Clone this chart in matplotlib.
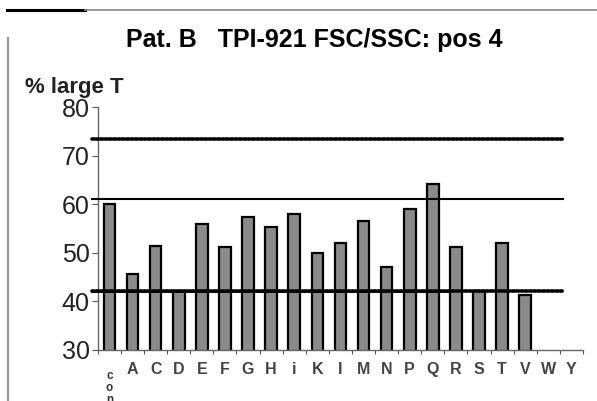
import matplotlib
matplotlib.use("Agg")
import matplotlib.pyplot as plt
from matplotlib.lines import Line2D
import numpy as np

categories = ["con", "A", "C", "D", "E", "F", "G", "H", "i", "K", "I",
              "M", "N", "P", "Q", "R", "S", "T", "V", "W", "Y"]
values = [60.1, 45.7, 51.5, 42.2, 55.9, 51.2, 57.5, 55.4, 58.0, 49.9, 52.0,
          56.5, 47.2, 59.1, 64.2, 51.2, 42.2, 52.1, 41.3, np.nan, np.nan]

upper_dotted = 73.6
upper_solid = 61.1
lower_level = 42.2
line_start, line_end = -0.76, 19.63
lower_solid_end = 14.7

plt.rcParams["font.family"] = ["Liberation Sans", "DejaVu Sans"]

fig = plt.figure(figsize=(5.97, 4.01), dpi=100)
ax = fig.add_axes([0.164, 0.1272, 0.8125, 0.6048])

x = np.arange(len(categories))
ax.bar(x, values, width=0.5, color="#8a8a8a", edgecolor="black", linewidth=1.6, zorder=2)

# reference lines
ax.plot([line_start, line_end], [upper_dotted] * 2, color="black", lw=2.6,
        ls=(0, (0.6, 0.6)), dash_capstyle="round", clip_on=False, zorder=3)
ax.plot([line_start, line_end], [upper_solid] * 2, color="black", lw=1.5,
        clip_on=False, zorder=3)
ax.plot([line_start, line_end], [lower_level] * 2, color="black", lw=2.6,
        ls=(0, (0.6, 0.6)), dash_capstyle="round", clip_on=False, zorder=3)
ax.plot([line_start, lower_solid_end], [lower_level] * 2, color="black", lw=2.0,
        clip_on=False, zorder=3)

ax.set_xlim(-0.5, len(categories) - 0.5)
ax.set_ylim(30, 80)
ax.set_yticks([30, 40, 50, 60, 70, 80])
ax.tick_params(axis="y", labelsize=18, length=4, width=0.8, color="#555555",
               labelcolor="#222222", pad=2)
ax.set_xticks(np.arange(len(categories) + 1) - 0.5, minor=False)
ax.set_xticklabels([])
ax.tick_params(axis="x", length=3, width=0.8, color="#555555")
for xi, cat in zip(x, categories):
    if cat == "con":
        ax.text(xi, 25.8, "c\no\nn", ha="center", va="top", fontsize=8.5,
                fontweight="bold", color="#333333", linespacing=1.0)
    else:
        ax.text(xi, 27.6, cat, ha="center", va="top", fontsize=11.5,
                fontweight="bold", color="#444444")

for s in ["top", "right"]:
    ax.spines[s].set_visible(False)
for s in ["left", "bottom"]:
    ax.spines[s].set_color("#666666")
    ax.spines[s].set_linewidth(1.0)

fig.text(0.527, 0.9, "Pat. B   TPI-921 FSC/SSC: pos 4", ha="center", va="center",
         fontsize=18, fontweight="bold")
fig.text(0.042, 0.783, "% large T", ha="left", va="center", fontsize=16,
         fontweight="bold", color="#222222")

# page frame remnants
fig.add_artist(Line2D([0.012, 0.143], [0.975, 0.975], color="black", lw=2.2,
                      transform=fig.transFigure))
fig.add_artist(Line2D([0.143, 1.0], [0.975, 0.975], color="#888888", lw=1.2,
                      transform=fig.transFigure))
fig.add_artist(Line2D([0.014, 0.014], [0.0, 0.905], color="#999999", lw=1.6,
                      transform=fig.transFigure))

fig.savefig("out.png", dpi=100, facecolor="white")
